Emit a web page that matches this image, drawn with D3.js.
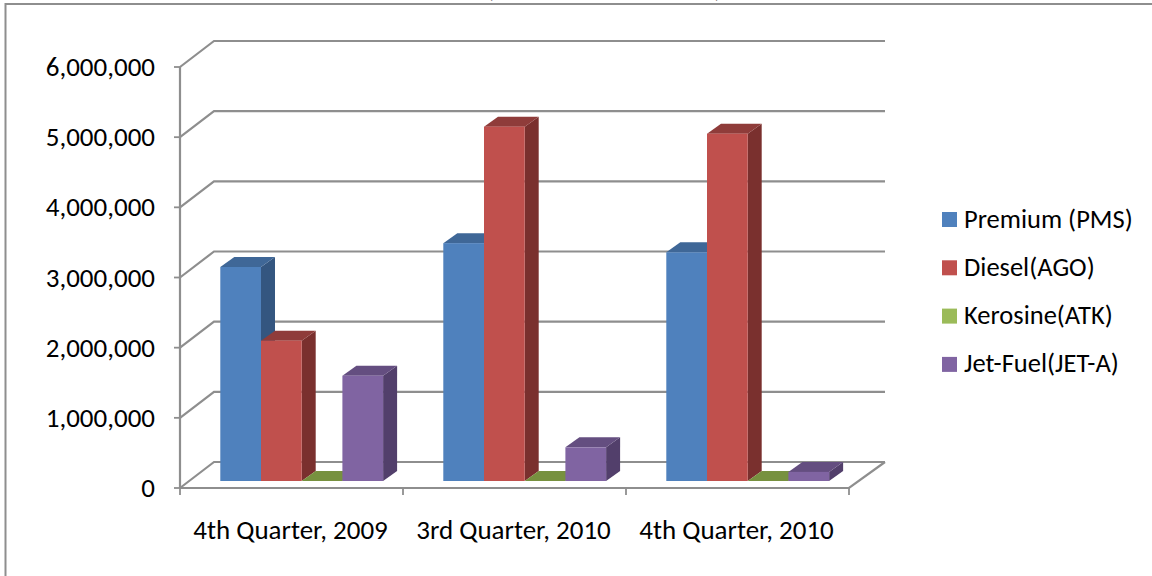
<!DOCTYPE html>
<html>
<head>
<meta charset="utf-8">
<script src="https://cdn.jsdelivr.net/npm/d3@7"></script>
<style>
  html, body { margin: 0; padding: 0; background: #fff; }
  svg { display: block; }
  text { font-family: Carlito, "Open Sans", "Noto Sans", sans-serif; fill: #000; }
</style>
</head>
<body>
<svg id="chart" width="1152" height="576"></svg>
<script>
const quarters = ['4th Quarter, 2009', '3rd Quarter, 2010', '4th Quarter, 2010'];
const seriesNames = ['Premium (PMS)', 'Diesel(AGO)', 'Kerosine(ATK)', 'Jet-Fuel(JET-A)'];
const premium = [3050000, 3390000, 3260000];
const diesel = [2000000, 5050000, 4950000];
const kerosine = [0, 0, 0];
const jetFuel = [1500000, 480000, 130000];
const yTicks = [0, 1000000, 2000000, 3000000, 4000000, 5000000, 6000000];

const allSeries = [premium, diesel, kerosine, jetFuel];
const colors = ['#4f81bd', '#c0504d', '#9bbb59', '#8064a2'];
const topColors = ['#3f6797', '#8f3c3a', '#77913f', '#644e80'];
const sideColors = ['#345680', '#7a302e', '#657b36', '#523f6b'];

const svg = d3.select('#chart');

// front plane of the axes
const x = d3.scaleBand().domain(quarters).range([180, 849]);
const y = d3.scaleLinear().domain([0, 6000000]).range([488, 67]);

// offset of the back wall, and of a bar's depth
const wallDx = 34, wallDy = -26;
const barDx = 14, barDy = -10;
const barBase = 481, barW = 40.7, barLeft = 40.3;

const gridColor = '#8e8e8e';

// border
svg.append('path')
    .attr('d', 'M5.5,576V4H1152')
    .attr('fill', 'none')
    .attr('stroke', gridColor)
    .attr('stroke-width', 2);

// only the bottom of the title's brackets shows above the border
[[490, '('], [718, ')']].forEach(([px, s]) => {
    svg.append('text')
        .attr('x', px)
        .attr('y', -3)
        .attr('text-anchor', 'middle')
        .attr('font-size', 27)
        .text(s);
});

// gridlines with the slanted part on the side wall
yTicks.forEach(t => {
    svg.append('polyline')
        .attr('points', [[180, y(t)], [180 + wallDx, y(t) + wallDy], [849 + wallDx + 2, y(t) + wallDy]].join(' '))
        .attr('fill', 'none')
        .attr('stroke', gridColor)
        .attr('stroke-width', 2.2);
    svg.append('line')
        .attr('x1', 174).attr('x2', 180)
        .attr('y1', y(t)).attr('y2', y(t))
        .attr('stroke', gridColor)
        .attr('stroke-width', 1.8);
    svg.append('text')
        .attr('x', 155)
        .attr('y', y(t) + 9)
        .attr('text-anchor', 'end')
        .attr('font-size', 27)
        .text(d3.format(',')(t));
});

// axis lines and floor
svg.append('line').attr('x1', 180).attr('x2', 180).attr('y1', y(6000000)).attr('y2', y(0))
    .attr('stroke', gridColor).attr('stroke-width', 2.2);
svg.append('polyline')
    .attr('points', [[180, y(0)], [849, y(0)], [849 + wallDx + 2, y(0) + wallDy]].join(' '))
    .attr('fill', 'none').attr('stroke', gridColor).attr('stroke-width', 2.2);

[180, 403, 626, 849].forEach(px => {
    svg.append('line').attr('x1', px).attr('x2', px).attr('y1', y(0)).attr('y2', y(0) + 7)
        .attr('stroke', gridColor).attr('stroke-width', 1.8);
});

quarters.forEach(q => {
    svg.append('text')
        .attr('x', x(q) + x.bandwidth() / 2 - 1)
        .attr('y', 539)
        .attr('text-anchor', 'middle')
        .attr('font-size', 27)
        .text(q);
});

// bars, left to right so the sides overlap properly
const h = v => y(0) - y(v);
quarters.forEach((q, qi) => {
    allSeries.forEach((vals, si) => {
        const left = x(q) + barLeft + si * barW;
        const right = left + barW;
        const top = barBase - h(vals[qi]);
        const g = svg.append('g');
        g.append('polygon')
            .attr('points', [[right, barBase], [right + barDx, barBase + barDy], [right + barDx, top + barDy], [right, top]].join(' '))
            .attr('fill', sideColors[si]);
        g.append('polygon')
            .attr('points', [[left, top], [left + barDx, top + barDy], [right + barDx, top + barDy], [right, top]].join(' '))
            .attr('fill', topColors[si]);
        g.append('rect')
            .attr('x', left).attr('y', top)
            .attr('width', barW).attr('height', barBase - top)
            .attr('fill', colors[si]);
    });
});

// legend
seriesNames.forEach((name, i) => {
    const ly = 219.5 + i * 48.3;
    svg.append('rect')
        .attr('x', 942).attr('y', ly - 7.5)
        .attr('width', 15).attr('height', 15)
        .attr('fill', colors[i]);
    svg.append('text')
        .attr('x', 964)
        .attr('y', ly + 8)
        .attr('font-size', 26.5)
        .text(name);
});
</script>
</body>
</html>
